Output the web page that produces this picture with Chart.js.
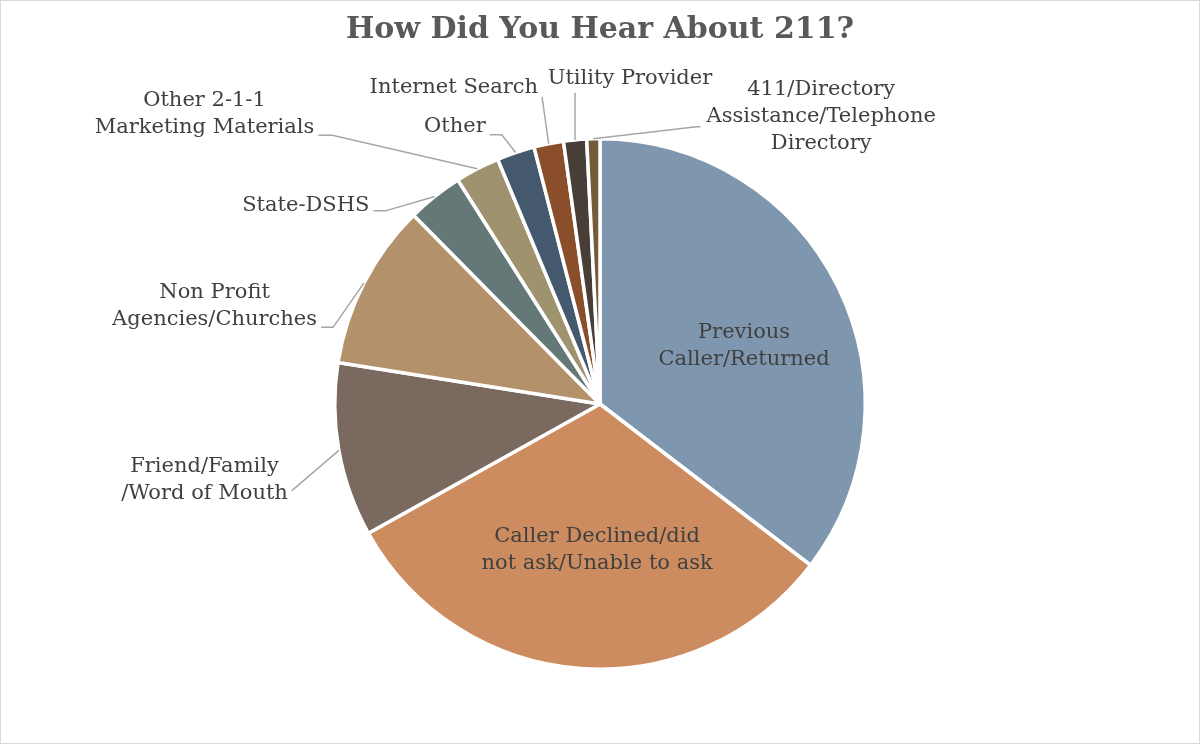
<!DOCTYPE html>
<html>
<head>
<meta charset="utf-8">
<script src="https://cdn.jsdelivr.net/npm/chart.js@4.4.1/dist/chart.umd.min.js"></script>
<style>
    html, body { margin: 0; padding: 0; background: #ffffff; }
    #wrap { position: relative; width: 1200px; height: 744px; }
    #frame { position: absolute; left: 0; top: 0; width: 1200px; height: 744px; box-sizing: border-box; border: 1px solid #d9d9d9; pointer-events: none; }
</style>
</head>
<body>
<div id="wrap">
    <canvas id="sourceChart" width="1200" height="744"></canvas>
    <div id="frame"></div>
</div>
<script>
const chartTitle = 'How Did You Hear About 211?';

const sourceLabels = [
    ['Previous', 'Caller/Returned'],
    ['Caller Declined/did', 'not ask/Unable to ask'],
    ['Friend/Family', '/Word of Mouth'],
    ['Non Profit', 'Agencies/Churches'],
    ['State-DSHS'],
    ['Other 2-1-1', 'Marketing Materials'],
    ['Other'],
    ['Internet Search'],
    ['Utility Provider'],
    ['411/Directory', 'Assistance/Telephone', 'Directory']
];

// share of calls, percent
const sourceShares = [35.4, 31.5, 10.6, 10.1, 3.4, 2.7, 2.3, 1.8, 1.4, 0.8];

const sliceColors = [
    '#7f97ae', '#cd8c5f', '#7a695e', '#b3916b', '#657878',
    '#9e926f', '#44596e', '#8a4f2a', '#473e38', '#745b3a'
];

// where each label sits, relative to the pie centre in radius units
const labelLayout = [
    { dx: 0.543, dy: -0.219, inside: true },
    { dx: -0.011, dy: 0.551, inside: true },
    { dx: -1.491, dy: 0.287, leader: 'right', line: 1, elbow: 0, yShift: -3 },
    { dx: -1.453, dy: -0.370, leader: 'right', line: 1, elbow: 12, yShift: 8 },
    { dx: -1.109, dy: -0.747, leader: 'right', line: 0, elbow: 12, yShift: 5 },
    { dx: -1.491, dy: -1.094, leader: 'right', line: 1, elbow: 14, yShift: 8 },
    { dx: -0.547, dy: -1.045, leader: 'right', line: 0, elbow: 12, yShift: 8 },
    { dx: -0.551, dy: -1.192, leader: 'right', line: 0, elbow: 0, yShift: 9 },
    { dx: 0.113, dy: -1.226, leader: 'bottom' },
    { dx: 0.834, dy: -1.083, leader: 'left', line: 1, elbow: 4, yShift: 10 }
];

const LABEL_FONT = '21px "DejaVu Serif"';
const LINE_H = 27;

const outsideLabelPlugin = {
    id: 'outsideLabels',
    afterDatasetsDraw: function (chart) {
        const ctx = chart.ctx;
        const arcs = chart.getDatasetMeta(0).data;
        ctx.save();
        ctx.font = LABEL_FONT;
        ctx.textAlign = 'center';
        ctx.textBaseline = 'middle';
        arcs.forEach(function (arc, i) {
            const p = arc.getProps(['x', 'y', 'startAngle', 'endAngle', 'outerRadius'], true);
            const r = p.outerRadius;
            const lines = sourceLabels[i];
            const spec = labelLayout[i];
            const cx = p.x + spec.dx * r;
            const cy = p.y + spec.dy * r;
            const top = cy - (lines.length - 1) * LINE_H / 2;

            ctx.fillStyle = '#404040';
            lines.forEach(function (text, k) {
                ctx.fillText(text, cx, top + k * LINE_H);
            });
            if (spec.inside) {
                return;
            }

            const mid = (p.startAngle + p.endAngle) / 2;
            const ex = p.x + Math.cos(mid) * r;
            const ey = p.y + Math.sin(mid) * r;

            ctx.strokeStyle = '#a6a6a6';
            ctx.lineWidth = 1.5;
            ctx.beginPath();
            if (spec.leader === 'bottom') {
                const by = top + (lines.length - 1) * LINE_H + 14;
                ctx.moveTo(ex, by);
                ctx.lineTo(ex, ey);
            } else {
                const lineText = lines[spec.line];
                const w = ctx.measureText(lineText).width;
                const ly = top + spec.line * LINE_H + spec.yShift;
                let sx;
                let kx;
                if (spec.leader === 'right') {
                    sx = cx + w / 2 + 4;
                    kx = sx + spec.elbow;
                } else {
                    sx = cx - w / 2 - 6;
                    kx = sx - spec.elbow;
                }
                ctx.moveTo(sx, ly);
                ctx.lineTo(kx, ly);
                ctx.lineTo(ex, ey);
            }
            ctx.stroke();
        });
        ctx.restore();
    }
};

new Chart(document.getElementById('sourceChart'), {
    type: 'pie',
    data: {
        labels: sourceLabels,
        datasets: [{
            data: sourceShares,
            backgroundColor: sliceColors,
            borderColor: '#ffffff',
            borderWidth: 3.5
        }]
    },
    options: {
        responsive: false,
        animation: false,
        layout: {
            padding: { top: 0, bottom: 73, left: 0, right: 0 }
        },
        plugins: {
            legend: { display: false },
            tooltip: { enabled: false },
            title: {
                display: true,
                text: chartTitle,
                color: '#595959',
                font: { family: 'DejaVu Serif', size: 30, weight: 'bold' },
                padding: { top: 12, bottom: 89 }
            }
        }
    },
    plugins: [outsideLabelPlugin]
});
</script>
</body>
</html>
